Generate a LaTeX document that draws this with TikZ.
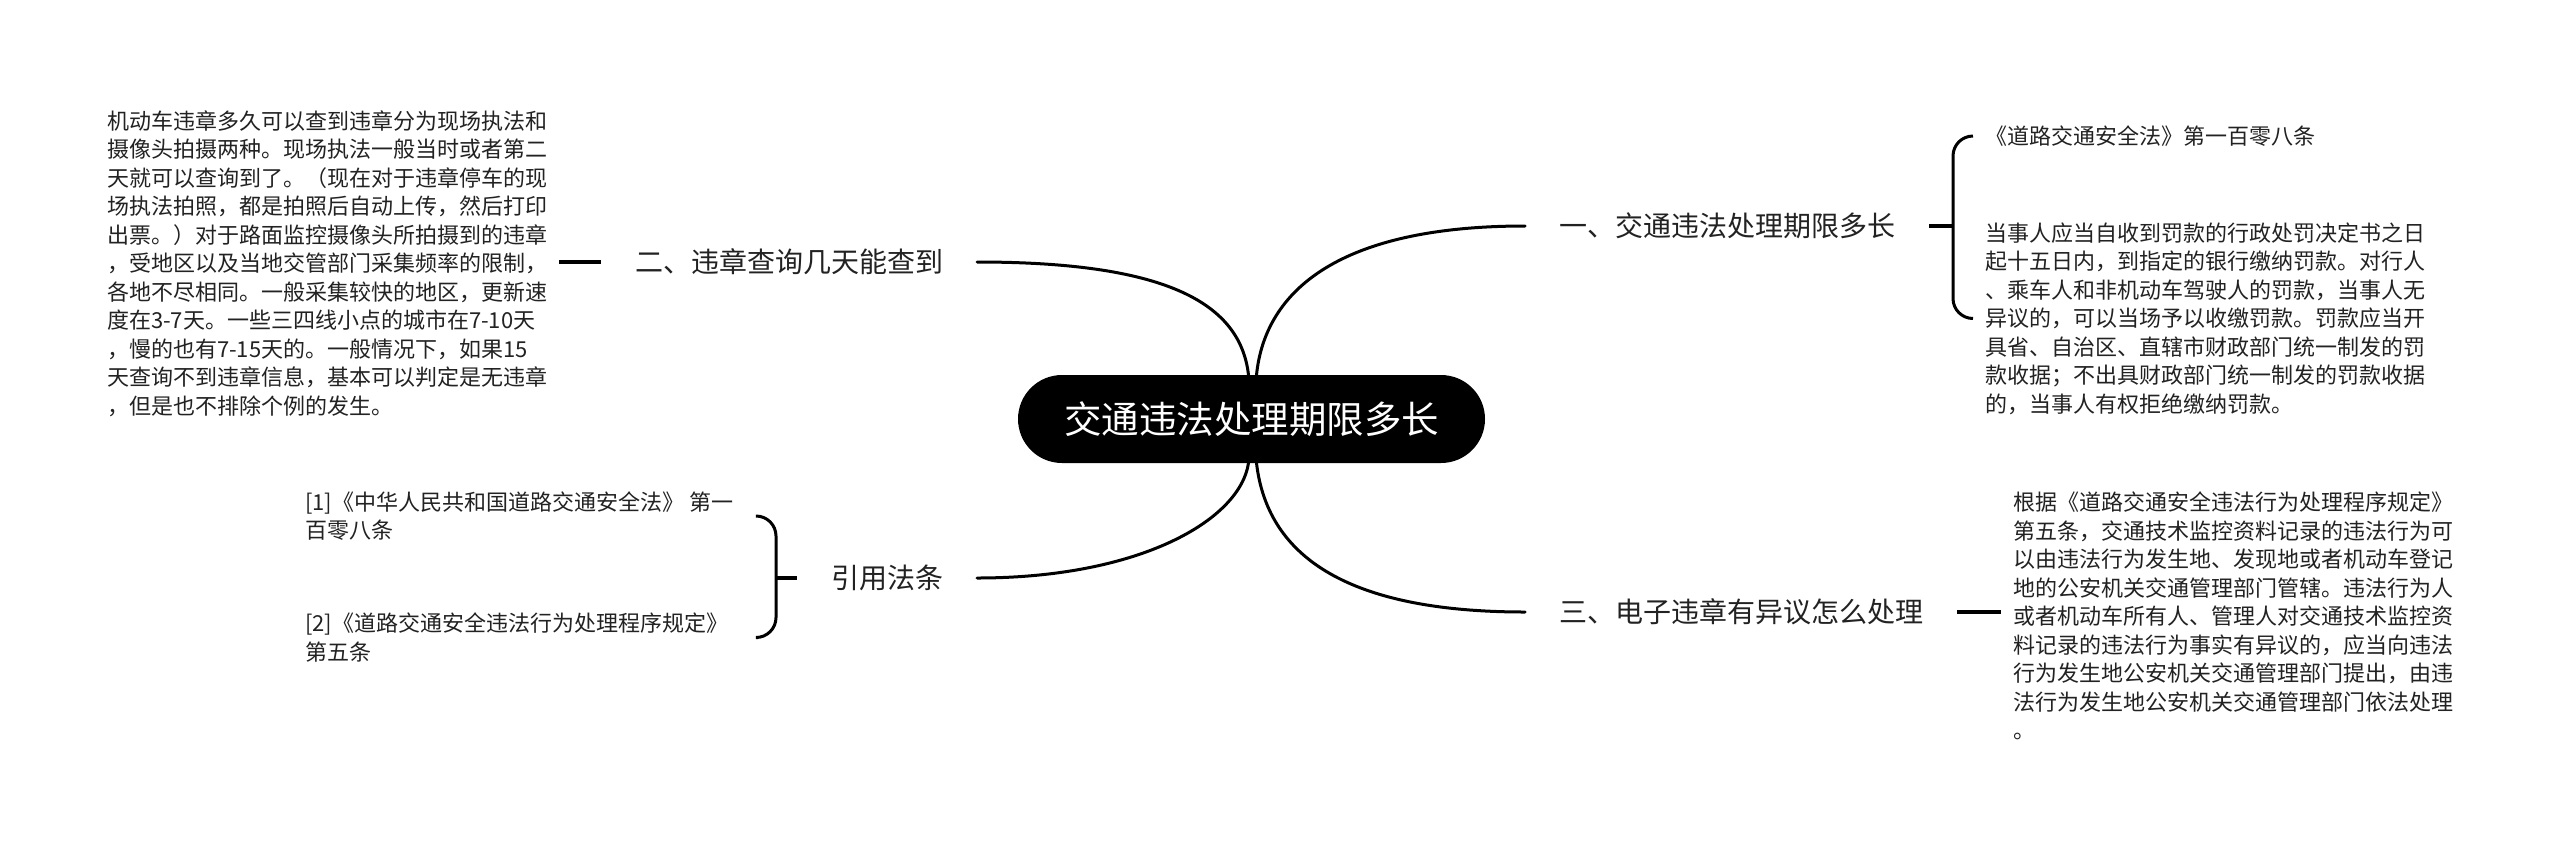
\documentclass[tikz,border=0pt]{standalone}
\usepackage{fontspec}
\setmainfont{Noto Sans CJK SC}
\usetikzlibrary{calc}
\definecolor{txt}{HTML}{222222}
\begin{document}
\begin{tikzpicture}[x=1pt,y=-1pt,
  conn/.style={line width=3pt, draw=black, line cap=round},
  stub/.style={line width=3.5pt, draw=black},
  brace/.style={line width=3pt, draw=black, rounded corners=20pt},
  branch/.style={font=\fontsize{28}{34}\selectfont, text=txt, inner xsep=34pt, inner ysep=4pt, outer sep=0pt},
  leaf/.style={font=\fontsize{22}{28.5}\selectfont, text=txt, align=left, inner xsep=12pt, inner ysep=0pt, outer sep=0pt},
  centre/.style={fill=black, text=white, rounded corners=44pt, minimum width=467pt, minimum height=88pt, inner sep=0pt, outer sep=0pt, font=\fontsize{37.5}{40}\selectfont}
]
\useasboundingbox (0,0) rectangle (2560,847);
\fill[white] (0,0) rectangle (2560,847);

% centre
\node[centre] (c) at (1251.5,419) {交通违法处理期限多长};

% branches
\node[branch, anchor=west] (b1) at (1525,226) {一、交通违法处理期限多长};
\node[branch, anchor=east] (b2) at (977,262) {二、违章查询几天能查到};
\node[branch, anchor=east] (b3) at (977,578) {引用法条};
\node[branch, anchor=west] (b4) at (1525,612) {三、电子违章有异议怎么处理};

% leaves
\node[leaf, anchor=west] (l1a) at (1973,136) {《道路交通安全法》第一百零八条};
\node[leaf, anchor=west] (l1b) at (1973,318.5) {当事人应当自收到罚款的行政处罚决定书之日\\起十五日内，到指定的银行缴纳罚款。对行人\\、乘车人和非机动车驾驶人的罚款，当事人无\\异议的，可以当场予以收缴罚款。罚款应当开\\具省、自治区、直辖市财政部门统一制发的罚\\款收据；不出具财政部门统一制发的罚款收据\\的，当事人有权拒绝缴纳罚款。};
\node[leaf, anchor=west] (l2) at (95,263.5) {机动车违章多久可以查到违章分为现场执法和\\摄像头拍摄两种。现场执法一般当时或者第二\\天就可以查询到了。（现在对于违章停车的现\\场执法拍照，都是拍照后自动上传，然后打印\\出票。）对于路面监控摄像头所拍摄到的违章\\，受地区以及当地交管部门采集频率的限制，\\各地不尽相同。一般采集较快的地区，更新速\\度在3-7天。一些三四线小点的城市在7-10天\\，慢的也有7-15天的。一般情况下，如果15\\天查询不到违章信息，基本可以判定是无违章\\，但是也不排除个例的发生。};
\node[leaf, anchor=west] (l3a) at (293,516) {[1]《中华人民共和国道路交通安全法》 第一\\百零八条};
\node[leaf, anchor=west] (l3b) at (293,637.5) {[2]《道路交通安全违法行为处理程序规定》\\第五条};
\node[leaf, anchor=west] (l4) at (2001,616) {根据《道路交通安全违法行为处理程序规定》\\第五条，交通技术监控资料记录的违法行为可\\以由违法行为发生地、发现地或者机动车登记\\地的公安机关交通管理部门管辖。违法行为人\\或者机动车所有人、管理人对交通技术监控资\\料记录的违法行为事实有异议的，应当向违法\\行为发生地公安机关交通管理部门提出，由违\\法行为发生地公安机关交通管理部门依法处理\\。};

% curves from centre
\draw[conn] ($(c.north)+(5,0)$) .. controls (1265,290) and (1340,226) .. (b1.west);
\draw[conn] ($(c.north)+(-3,0)$) .. controls (1240,300) and (1160,262) .. (b2.east);
\draw[conn] ($(c.south)+(-3,0)$) .. controls (1240,520) and (1140,578) .. (b3.east);
\draw[conn] ($(c.south)+(5,0)$) .. controls (1266,545) and (1330,612) .. (b4.west);

% stubs and braces
\coordinate (k1) at ($(b1.east)+(24,0)$);
\draw[stub] (b1.east) -- (k1);
\draw[brace] (l1a.west) -| (k1) |- (l1b.west);

\draw[stub] (b2.west) -- (b2.west -| l2.east);

\coordinate (k3) at ($(b3.west)+(-21,0)$);
\coordinate (k3e) at ($(k3)+(-18,0)$);
\draw[stub] (b3.west) -- (k3);
\draw[brace] (k3e |- l3a.west) -| (k3) |- (k3e |- l3b.west);

\draw[stub] (b4.east) -- (b4.east -| l4.west);
\end{tikzpicture}
\end{document}
